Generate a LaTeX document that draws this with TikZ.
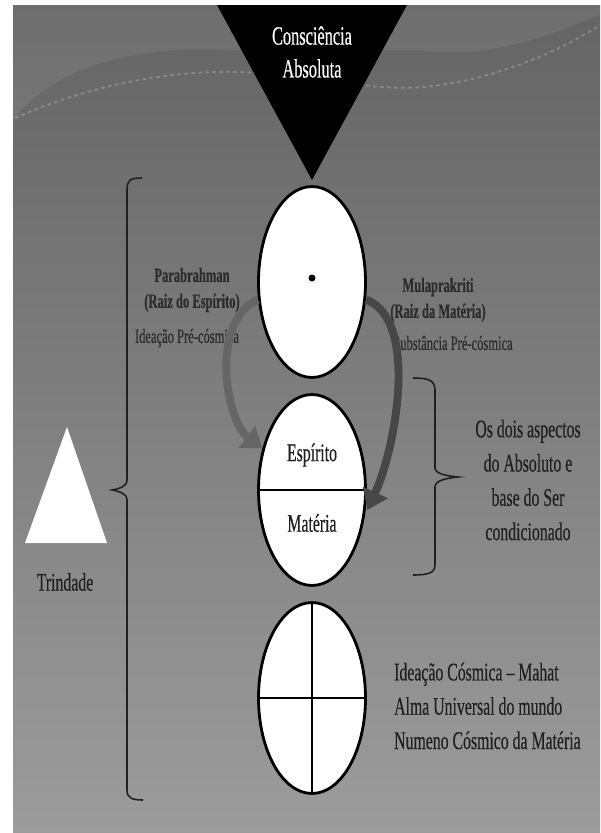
\documentclass[tikz,border=0pt]{standalone}
\usepackage{fontspec}
\setmainfont{Liberation Serif}[FakeStretch=0.62, FakeBold=0.4]
\usepackage{tikz}
\usetikzlibrary{arrows.meta, shapes.geometric}
\definecolor{bgtop}{HTML}{646464}
\definecolor{bgbot}{HTML}{9C9C9C}
\definecolor{ink}{HTML}{202020}
\definecolor{softink}{HTML}{2C2C2C}
\tikzset{
  egg/.style={ellipse, draw=black, line width=1.6pt, fill=white,
    minimum width=2.14cm, minimum height=3.82cm, inner sep=0pt},
  bigtext/.style={font=\fontsize{14.5}{19.5}\selectfont, text=ink, align=center},
  smalltext/.style={font=\fontsize{11.5}{14.7}\selectfont, text=softink, align=center},
  flow/.style={line width=4.5pt, -{Triangle[length=11pt, width=15pt]}},
  brace/.style={draw=ink, line width=0.9pt}
}

\begin{document}
\begin{tikzpicture}[x=0.02cm, y=-0.02cm]
\useasboundingbox (0,0) rectangle (600,833);
% background
\shade[top color=bgtop, bottom color=bgbot] (13,5) rectangle (600,833);
\fill[white, opacity=0.07] (13,120) .. controls (60,60) and (150,45) .. (230,50)
  -- (420,50) .. controls (500,60) and (560,30) .. (600,15) -- (600,5) -- (13,5) -- cycle;
\draw[white, opacity=0.22, line width=1pt, dash pattern=on 2pt off 2pt]
  (15,118) .. controls (90,85) and (170,70) .. (240,72)
  .. controls (320,75) and (380,95) .. (440,85) .. controls (510,75) and (570,45) .. (600,25);
%
\fill[black] (217,5) -- (407,5) -- (312,180) -- cycle;
\node(cons) at (312,52) [font=\fontsize{15}{18.7}\selectfont, text=white, align=center] {Consciência\\Absoluta};
%
\node(top) at (312,282) [egg] {};
\fill[black] (top.center) ++(0,-4) circle (3.5);
\node(mid) at (312,490) [egg] {};
\draw[line width=1.4pt] (mid.west) -- (mid.east);
\node(bot) at (312,698) [egg] {};
\draw[line width=1.3pt] (bot.west) -- (bot.east);
\draw[line width=1.3pt] (bot.north) -- (bot.south);
\node(esp) at (312,455) [bigtext] {Espírito};
\node(mat) at (312,523) [bigtext] {Matéria};
%
\node(parab) at (192,290) [smalltext, font=\fontsize{11.5}{14.7}\selectfont\bfseries] {Parabrahman\\(Raiz do Espírito)};
\node(ideac) at (187,338) [smalltext] {Ideação Pré-cósmica};
\node(mula) at (438,300) [smalltext, font=\fontsize{11.5}{14.7}\selectfont\bfseries] {Mulaprakriti\\(Raiz da Matéria)};
\node(subst) at (453,343) [smalltext] {Substância Pré-cósmica};
%
\draw[flow, draw=black!60] (top.198) .. controls (210,320) and (225,420) .. (mid.140);
\draw[flow, draw=black!72, shorten >=3pt] (top.-18) .. controls (420,320) and (395,450) .. (mid.-25);
%
\fill[white] (67,427) -- (107,543) -- (25,543) -- cycle;
\node(trin) at (65,582) [bigtext] {Trindade};
\draw[brace] (142,178) .. controls (130,178) and (127,180) .. (127,190)
  -- (127,480) .. controls (127,487) and (118,489) .. (112,490)
  .. controls (118,491) and (127,493) .. (127,500)
  -- (127,790) .. controls (127,798) and (132,800) .. (143,800);
%
\draw[brace] (413,378) .. controls (428,378) and (435,380) .. (435,390)
  -- (435,468) .. controls (435,474) and (448,476) .. (458,477)
  .. controls (448,478) and (435,480) .. (435,487)
  -- (435,565) .. controls (435,573) and (428,575) .. (413,575);
\node(aspect) at (528,480) [bigtext] {Os dois aspectos\\do Absoluto e\\base do Ser\\condicionado};
%
\node(mahat) at (388,706) [bigtext, anchor=west, align=left] {Ideação Cósmica – Mahat\\Alma Universal do mundo\\Numeno Cósmico da Matéria};
\end{tikzpicture}
\end{document}
